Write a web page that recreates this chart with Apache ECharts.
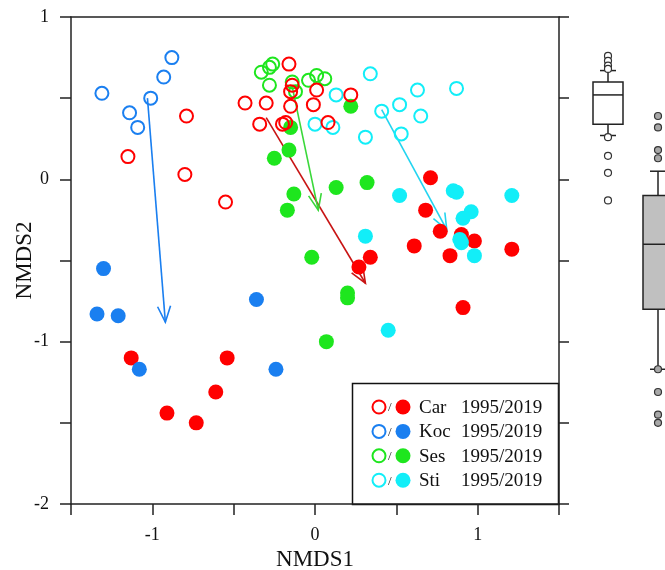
<!doctype html>
<html>
	<head>
	<meta charset="utf-8">
	<title>NMDS</title>
	<style>
		html,body{height: 100%; padding: 0; margin: 0; background: #fff;}
	</style>
	</head>
	<body>
		<div style="width: 665px; height: 570px;" id="nmds"></div>
	<script src="https://cdn.jsdelivr.net/npm/echarts@6.0.0/dist/echarts.min.js"></script>
	<script>
	// sites and years
	var sites = ['Car', 'Koc', 'Ses', 'Sti'];
	var yearLabel = '1995/2019';

	// NMDS scores [NMDS1, NMDS2], open = 1995, filled = 2019
	var car1995 = [[-1.15,0.14],[-0.80,0.03],[-0.79,0.39],[-0.55,-0.14],[-0.43,0.47],[-0.30,0.47],[-0.34,0.34],[-0.16,0.71],[-0.14,0.58],[-0.15,0.54],[-0.15,0.45],[-0.01,0.46],[0.01,0.55],[-0.20,0.34],[-0.18,0.35],[0.08,0.35],[0.22,0.52]];
	var car2019 = [[-1.13,-1.10],[-0.54,-1.10],[-0.61,-1.31],[-0.91,-1.44],[-0.73,-1.50],[0.71,0.01],[0.68,-0.19],[0.77,-0.32],[0.90,-0.34],[0.98,-0.38],[0.61,-0.41],[0.83,-0.47],[1.21,-0.43],[0.34,-0.48],[0.27,-0.54],[0.91,-0.79]];
	var koc1995 = [[-1.31,0.53],[-1.14,0.41],[-1.09,0.32],[-1.01,0.50],[-0.93,0.63],[-0.88,0.75]];
	var koc2019 = [[-1.30,-0.55],[-1.34,-0.83],[-1.21,-0.84],[-1.08,-1.17],[-0.36,-0.74],[-0.24,-1.17]];
	var ses1995 = [[-0.33,0.66],[-0.28,0.69],[-0.26,0.71],[-0.28,0.58],[-0.14,0.60],[-0.12,0.54],[-0.04,0.61],[0.01,0.64],[0.06,0.62]];
	var ses2019 = [[0.22,0.45],[-0.15,0.32],[-0.16,0.18],[-0.25,0.13],[0.13,-0.05],[0.32,-0.02],[-0.02,-0.48],[-0.17,-0.19],[-0.13,-0.09],[0.20,-0.70],[0.20,-0.73],[0.07,-1.00]];
	var sti1995 = [[0.34,0.65],[0.63,0.55],[0.87,0.56],[0.52,0.46],[0.41,0.42],[0.65,0.39],[0.53,0.28],[0.31,0.26],[0.13,0.52],[0.00,0.34],[0.11,0.32]];
	var sti2019 = [[0.52,-0.10],[0.85,-0.07],[0.87,-0.08],[1.21,-0.10],[0.96,-0.20],[0.91,-0.24],[0.31,-0.35],[0.90,-0.39],[0.89,-0.37],[0.98,-0.47],[0.45,-0.93]];

	// site shift arrows [x0, y0, x1, y1]
	var shifts = [[-0.30,0.38,0.31,-0.64],[-1.03,0.50,-0.92,-0.88],[-0.14,0.57,0.02,-0.19],[0.41,0.43,0.81,-0.31]];

	// marginal boxplots of NMDS2 [min, q1, median, q3, max]
	var boxYears = ['1995', '2019'];
	var boxStats = [[0.27,0.34,0.52,0.60,0.67],[-1.17,-0.80,-0.40,-0.10,0.05]];
	var outliers1995 = [0.76,0.73,0.70,0.68,0.26,0.145,0.04,-0.13];
	var outliers2019 = [0.39,0.32,0.18,0.13,-1.17,-1.31,-1.45,-1.50];

	var open = [car1995, koc1995, ses1995, sti1995];
	var filled = [car2019, koc2019, ses2019, sti2019];
	var colors = ['#ff0000', '#1a7ff0', '#1ee61e', '#12eef8'];
	var arrowColors = ['#c81414', '#1a7ff0', '#3ad83a', '#22d4f0'];
	var serif = "'Liberation Serif', 'Times New Roman', serif";

	var myChart = echarts.init(document.getElementById('nmds'));

	var series = [];
	for (var i = 0; i < sites.length; i++) {
		series.push({
			name: sites[i] + ' 2019', type: 'scatter', xAxisIndex: 0, yAxisIndex: 0,
			symbolSize: 15, data: filled[i],
			itemStyle: {color: colors[i], opacity: 1}
		});
	}
	var openOrder = [1, 2, 3, 0];
	for (var k = 0; k < openOrder.length; k++) {
		var j = openOrder[k];
		series.push({
			name: sites[j] + ' 1995', type: 'scatter', xAxisIndex: 0, yAxisIndex: 0,
			symbolSize: 13, data: open[j],
			itemStyle: {color: 'transparent', borderColor: colors[j], borderWidth: 2, opacity: 1}
		});
	}
	series.push({
		type: 'custom', xAxisIndex: 0, yAxisIndex: 0, data: shifts,
		encode: {x: [0, 2], y: [1, 3]},
		renderItem: function (params, api) {
			var p0 = api.coord([api.value(0), api.value(1)]);
			var p1 = api.coord([api.value(2), api.value(3)]);
			var dx = p1[0] - p0[0], dy = p1[1] - p0[1];
			var len = Math.sqrt(dx * dx + dy * dy);
			var ux = dx / len, uy = dy / len;
			var hl = 16, hw = 6.5;
			var bx = p1[0] - ux * hl, by = p1[1] - uy * hl;
			var c = arrowColors[params.dataIndex];
			return {
				type: 'group',
				children: [
					{type: 'line', shape: {x1: p0[0], y1: p0[1], x2: p1[0], y2: p1[1]}, style: {stroke: c, lineWidth: 1.6}},
					{type: 'polyline', shape: {points: [[bx - uy * hw, by + ux * hw], p1, [bx + uy * hw, by - ux * hw]]}, style: {stroke: c, fill: null, lineWidth: 1.6}}
				]
			};
		}
	});

	// boxplots on the side grid (x: 0 = 1995, 1 = 2019)
	var boxData = boxStats.map(function (s, idx) { return [idx].concat(s); });
	series.push({
		type: 'custom', xAxisIndex: 2, yAxisIndex: 2, data: boxData,
		encode: {x: 0, y: [1, 2, 3, 4, 5]},
		renderItem: function (params, api) {
			var cat = api.value(0);
			var x = api.coord([cat, 0])[0];
			var yMin = api.coord([cat, api.value(1)])[1];
			var yQ1 = api.coord([cat, api.value(2)])[1];
			var yMed = api.coord([cat, api.value(3)])[1];
			var yQ3 = api.coord([cat, api.value(4)])[1];
			var yMax = api.coord([cat, api.value(5)])[1];
			var hw = 15, cw = 8;
			var st = {stroke: '#222', lineWidth: 1.5, fill: null};
			return {
				type: 'group',
				children: [
					{type: 'line', shape: {x1: x, y1: yMax, x2: x, y2: yQ3}, style: st},
					{type: 'line', shape: {x1: x, y1: yQ1, x2: x, y2: yMin}, style: st},
					{type: 'line', shape: {x1: x - cw, y1: yMax, x2: x + cw, y2: yMax}, style: st},
					{type: 'line', shape: {x1: x - cw, y1: yMin, x2: x + cw, y2: yMin}, style: st},
					{type: 'rect', shape: {x: x - hw, y: yQ3, width: 2 * hw, height: yQ1 - yQ3}, style: {stroke: '#222', lineWidth: 1.5, fill: cat === 0 ? '#fff' : '#c0c0c0'}},
					{type: 'line', shape: {x1: x - hw, y1: yMed, x2: x + hw, y2: yMed}, style: st}
				]
			};
		}
	});
	series.push({
		type: 'scatter', xAxisIndex: 2, yAxisIndex: 2, symbolSize: 7,
		data: outliers1995.map(function (v) { return [0, v]; }),
		itemStyle: {color: '#fff', borderColor: '#333', borderWidth: 1.2, opacity: 1}
	});
	series.push({
		type: 'scatter', xAxisIndex: 2, yAxisIndex: 2, symbolSize: 7,
		data: outliers2019.map(function (v) { return [1, v]; }),
		itemStyle: {color: '#a8a8a8', borderColor: '#333', borderWidth: 1.2, opacity: 1}
	});

	// legend box
	var legendItems = [{type: 'rect', shape: {x: 352.5, y: 383.5, width: 206, height: 121}, style: {fill: '#fff', stroke: '#111', lineWidth: 1.5}}];
	for (var n = 0; n < sites.length; n++) {
		var cy = 407 + n * 24.4;
		legendItems.push({type: 'circle', shape: {cx: 379, cy: cy, r: 6.5}, style: {fill: null, stroke: colors[n], lineWidth: 2}});
		legendItems.push({type: 'text', x: 388, y: cy + 1, style: {text: '/', fontSize: 13, fontFamily: serif, fill: '#222', verticalAlign: 'middle'}});
		legendItems.push({type: 'circle', shape: {cx: 403, cy: cy, r: 7.5}, style: {fill: colors[n]}});
		legendItems.push({type: 'text', x: 419, y: cy + 1, style: {text: sites[n], fontSize: 19, fontFamily: serif, fill: '#111', verticalAlign: 'middle'}});
		legendItems.push({type: 'text', x: 461, y: cy + 1, style: {text: yearLabel, fontSize: 19, fontFamily: serif, fill: '#111', verticalAlign: 'middle'}});
	}

	var axisLine = {show: true, onZero: false, lineStyle: {color: '#222', width: 1.5}};
	var halfLabel = function (v) { return Math.abs(v % 1) < 1e-9 ? String(v) : ''; };

	var option = {
		animation: false,
		backgroundColor: '#fff',
		grid: [
			{left: 71, right: 106, top: 17, bottom: 66, containLabel: false, outerBoundsMode: 'none'},
			{left: 583, right: 0, top: 17, bottom: 66, containLabel: false, outerBoundsMode: 'none'}
		],
		xAxis: [
			{
				type: 'value', gridIndex: 0, min: -1.5, max: 1.5, interval: 0.5,
				name: 'NMDS1', nameLocation: 'middle', nameGap: 41,
				nameTextStyle: {fontFamily: serif, fontSize: 23, color: '#111'},
				axisLine: axisLine,
				axisTick: {show: true, length: 11, lineStyle: {color: '#222', width: 1.5}},
				axisLabel: {margin: 22, fontFamily: serif, fontSize: 18, color: '#111', formatter: halfLabel},
				splitLine: {show: false}
			},
			{
				type: 'value', gridIndex: 0, position: 'top', min: -1.5, max: 1.5,
				axisLine: axisLine, axisTick: {show: false}, axisLabel: {show: false}, splitLine: {show: false}
			},
			{
				// 50 px per unit across the 82 px side grid
				type: 'value', gridIndex: 1, min: -0.5, max: 1.14, show: false
			}
		],
		yAxis: [
			{
				type: 'value', gridIndex: 0, min: -2, max: 1, interval: 0.5,
				name: 'NMDS2', nameLocation: 'middle', nameGap: 35, nameMoveOverlap: false,
				nameTextStyle: {fontFamily: serif, fontSize: 23, color: '#111'},
				axisLine: axisLine,
				axisTick: {show: true, length: 11, lineStyle: {color: '#222', width: 1.5}},
				axisLabel: {margin: 22, fontFamily: serif, fontSize: 18, color: '#111', formatter: halfLabel},
				splitLine: {show: false}
			},
			{
				type: 'value', gridIndex: 0, position: 'right', min: -2, max: 1, interval: 0.5,
				axisLine: axisLine,
				axisTick: {show: true, length: 10, lineStyle: {color: '#222', width: 1.5}},
				axisLabel: {show: false}, splitLine: {show: false}
			},
			{
				type: 'value', gridIndex: 1, min: -2, max: 1, show: false
			}
		],
		graphic: [{type: 'group', z: 100, children: legendItems}],
		series: series
	};
	myChart.setOption(option);
	</script>
	</body>
</html>
